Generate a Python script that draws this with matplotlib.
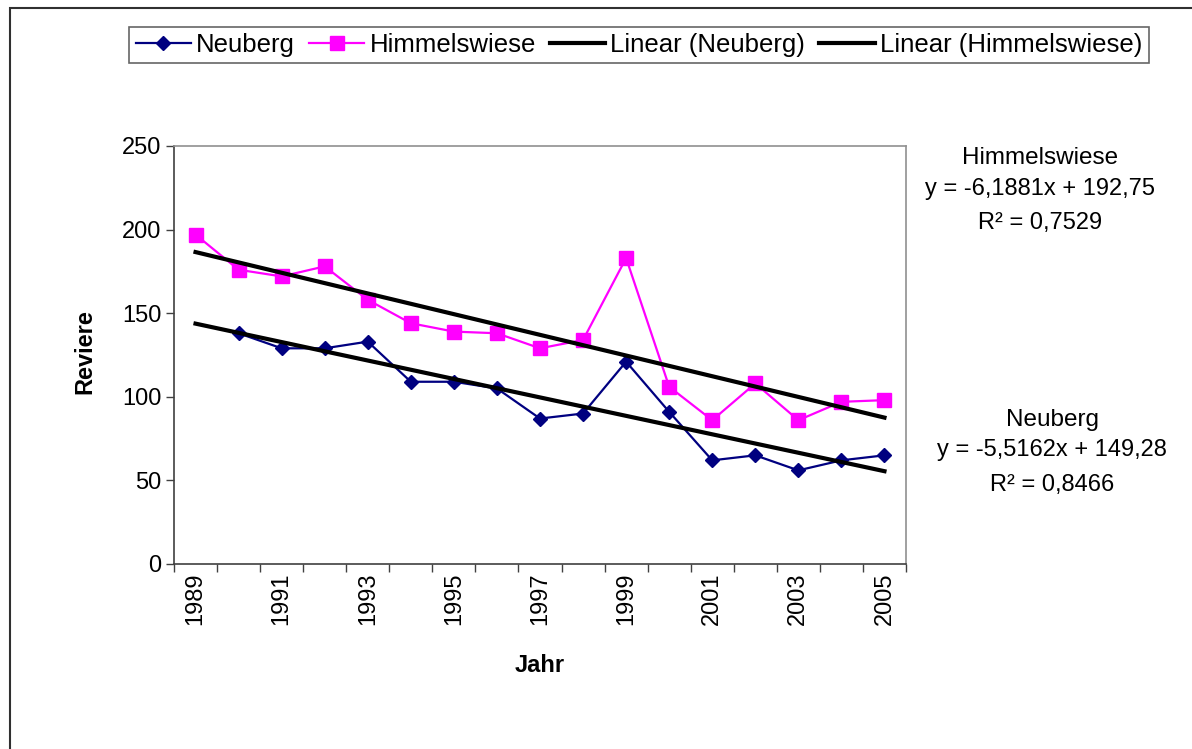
import numpy as np
import matplotlib
matplotlib.use('Agg')
import matplotlib.pyplot as plt
from matplotlib.patches import Rectangle
plt.rcParams.update({'font.family': ['Liberation Sans', 'DejaVu Sans'], 'font.size': 17})

years = list(range(1989, 2006))
neuberg = [np.nan, 138, 129, 129, 133, 109, 109, 105, 87, 90, 121, 91, 62, 65, 56, 62, 65]
himmelswiese = [197, 176, 172, 178, 158, 144, 139, 138, 129, 134, 183, 106, 86, 108, 86, 97, 98]

# trend line coefficients (Excel, x = 1..17)
neu_slope, neu_icpt, neu_r2 = -5.5162, 149.28, 0.8466
him_slope, him_icpt, him_r2 = -6.1881, 192.75, 0.7529

def de(v, n):
    return ('%.*f' % (n, v)).replace('.', ',')

fig = plt.figure(figsize=(11.92, 7.49), dpi=100)
W, H = 1192, 749
ax = fig.add_axes([174 / W, 1 - 564 / H, (906 - 174) / W, (564 - 146) / H])

x = np.arange(len(years))
idx = x + 1
ax.plot(x, neuberg, color='#000080', lw=1.6, marker='D', ms=7, label='Neuberg', zorder=3)
ax.plot(x, himmelswiese, color='#FF00FF', lw=1.6, marker='s', ms=9.5, label='Himmelswiese', zorder=3)
ax.plot(x, neu_slope * idx + neu_icpt, color='black', lw=3, label='Linear (Neuberg)', zorder=4)
ax.plot(x, him_slope * idx + him_icpt, color='black', lw=3, label='Linear (Himmelswiese)', zorder=4)

ax.set_xlim(-0.5, len(years) - 0.5)
ax.set_ylim(0, 250)
ax.set_yticks(range(0, 251, 50))
ax.set_xticks(x[::2])
ax.set_xticklabels([str(y) for y in years[::2]], rotation=90)
ax.set_xticks(np.arange(-0.5, len(years)), minor=True)
ax.tick_params(axis='x', which='major', length=0, pad=6)
ax.tick_params(axis='x', which='minor', length=6, width=1, direction='out', color='#404040')
ax.tick_params(axis='y', length=6, width=1, direction='out', color='#404040', pad=3)
for s in ('left', 'bottom'):
    ax.spines[s].set_color('#404040')
    ax.spines[s].set_linewidth(1.2)
for s in ('top', 'right'):
    ax.spines[s].set_color('#909090')
    ax.spines[s].set_linewidth(1.2)

fig.text(85 / W, 1 - 352 / H, 'Reviere', rotation=90, ha='center', va='center', fontweight='bold')
fig.text(540 / W, 1 - 665 / H, 'Jahr', ha='center', va='center', fontweight='bold')

fig.text(1040 / W, 1 - 158 / H, 'Himmelswiese', ha='center', va='center', fontsize=17.5)
fig.text(1040 / W, 1 - 189 / H, 'y = ' + de(him_slope, 4) + 'x + ' + de(him_icpt, 2), ha='center', va='center')
fig.text(1040 / W, 1 - 223 / H, 'R² = ' + de(him_r2, 4), ha='center', va='center')
fig.text(1052 / W, 1 - 420 / H, 'Neuberg', ha='center', va='center', fontsize=17.5)
fig.text(1052 / W, 1 - 450 / H, 'y = ' + de(neu_slope, 4) + 'x + ' + de(neu_icpt, 2), ha='center', va='center')
fig.text(1052 / W, 1 - 485 / H, 'R² = ' + de(neu_r2, 4), ha='center', va='center')

leg = fig.legend(loc='center', bbox_to_anchor=((134 + 1144) / 2 / W, 1 - 45 / H), ncol=4,
                 numpoints=1, handlelength=2.15, handletextpad=0.2, columnspacing=0.55,
                 fancybox=False, edgecolor='#404040', borderpad=0.25, fontsize=18.5)
leg.get_frame().set_linewidth(1.2)

fig.patches.append(Rectangle((10 / W, -0.1), 1.2, 1 - 8 / H + 0.1, transform=fig.transFigure,
                             fill=False, edgecolor='#303030', lw=1.5))

fig.savefig('out.png', dpi=100)
